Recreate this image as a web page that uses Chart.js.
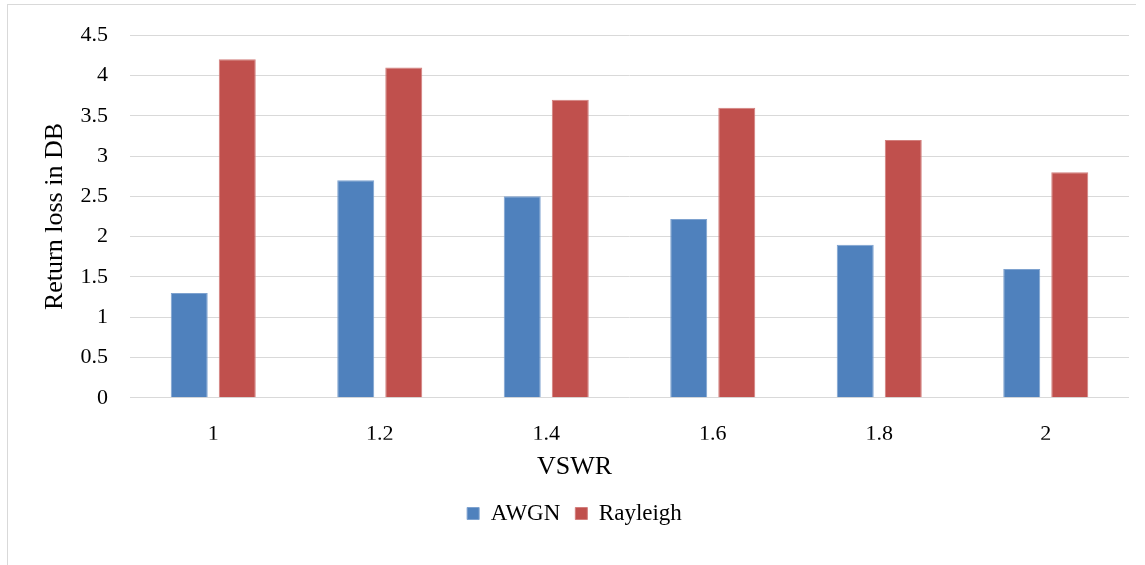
<!DOCTYPE html>
<html>
<head>
<meta charset="utf-8">
<title>Return loss vs VSWR</title>
<script src="https://cdn.jsdelivr.net/npm/chart.js@4.4.1/dist/chart.umd.min.js"></script>
<style>
  body { margin: 0; background: #fff; }
  #wrap { position: absolute; left: 0; top: 0; width: 1145px; height: 565px; }
  #frame { position: absolute; left: 7px; top: 4px; width: 1128px; height: 640px;
           border-top: 1px solid #d9d9d9; border-left: 1px solid #d9d9d9; }
</style>
</head>
<body>
<div id="frame"></div>
<div id="wrap"><canvas id="myChart"></canvas></div>
<script>
// data
const vswrLabels = ['1', '1.2', '1.4', '1.6', '1.8', '2'];
const awgnValues = [1.3, 2.7, 2.5, 2.22, 1.9, 1.6];
const rayleighValues = [4.2, 4.1, 3.7, 3.6, 3.2, 2.8];
const yTicks = [0, 0.5, 1, 1.5, 2, 2.5, 3, 3.5, 4, 4.5];

const serif = 'Liberation Serif, Times New Roman, serif';

const ctx = document.querySelector('#myChart');

const chart = new Chart(ctx, {
  type: 'bar',
  data: {
    labels: vswrLabels,
    datasets: [{
      label: 'AWGN',
      data: awgnValues,
      backgroundColor: '#4f81bd',
      borderColor: '#7ea2cf',
      borderWidth: 1,
      categoryPercentage: 0.577,
      barPercentage: 0.77
    }, {
      label: 'Rayleigh',
      data: rayleighValues,
      backgroundColor: '#c0504d',
      borderColor: '#d27f7d',
      borderWidth: 1,
      categoryPercentage: 0.577,
      barPercentage: 0.77
    }]
  },
  options: {
    responsive: true,
    maintainAspectRatio: false,
    animation: false,
    layout: { padding: { left: 20, right: 16, top: 33, bottom: 30 } },
    scales: {
      x: {
        grid: { display: false },
        border: { display: false },
        ticks: { color: '#000', font: { family: serif, size: 22 }, padding: 15 },
        afterFit: (axis) => { axis.height = 42; }
      },
      y: {
        min: 0,
        max: 4.5,
        afterBuildTicks: (axis) => { axis.ticks = yTicks.map(v => ({ value: v })); },
        grid: { color: '#d9d9d9', lineWidth: 1, drawTicks: false },
        border: { display: false },
        ticks: {
          color: '#000',
          font: { family: serif, size: 22 },
          padding: 22,
          callback: (v) => String(v)
        },
        title: {
          display: true,
          text: 'Return loss in DB',
          color: '#000',
          font: { family: serif, size: 26 },
          padding: { top: 20, bottom: 0 }
        },
        afterFit: (axis) => { axis.width = 110; }
      }
    },
    plugins: {
      // x axis caption, placed between the axis and the legend
      title: {
        display: true,
        position: 'bottom',
        weight: 500,
        text: 'VSWR',
        color: '#000',
        font: { family: serif, size: 26, weight: 'normal' },
        padding: { top: 12, bottom: 4 }
      },
      legend: {
        position: 'bottom',
        labels: {
          color: '#000',
          font: { family: serif, size: 23 },
          boxWidth: 12,
          boxHeight: 12,
          padding: 15
        }
      },
      tooltip: { enabled: false }
    }
  }
});
</script>
</body>
</html>
